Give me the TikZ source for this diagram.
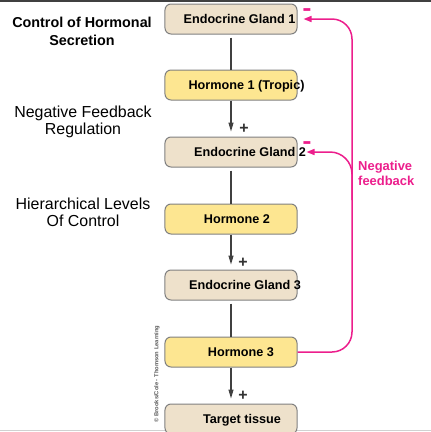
\documentclass[tikz,border=0pt]{standalone}
\usepackage{fontspec}
\usepackage{graphicx}
\setmainfont{Liberation Sans}
\usetikzlibrary{arrows.meta}
\definecolor{gland}{RGB}{238,225,203}
\definecolor{horm}{RGB}{253,230,145}
\definecolor{boxline}{RGB}{128,128,128}
\definecolor{arrowgray}{RGB}{64,64,64}
\definecolor{fbpink}{RGB}{236,30,140}
\tikzset{
  boxbase/.style={draw=boxline, line width=1bp, rounded corners=6bp, minimum width=132bp, minimum height=30bp, inner sep=0pt},
  glandbox/.style={boxbase, fill=gland},
  hormbox/.style={boxbase, fill=horm},
  boxtext/.style={font=\bfseries\fontsize{12.7}{14}\selectfont, text height=9bp, text depth=0pt, inner sep=0pt, anchor=center},
  lefttitle/.style={font=\bfseries\fontsize{14.4}{17}\selectfont, inner sep=0pt, anchor=base},
  lefttext/.style={font=\fontsize{16}{18}\selectfont, inner sep=0pt, anchor=base},
  fbtext/.style={font=\bfseries\fontsize{13}{15}\selectfont, text=fbpink, inner sep=0pt, anchor=base west},
  plussign/.style={font=\bfseries\fontsize{16}{16}\selectfont, text=arrowgray!80!black, inner sep=0pt, anchor=center},
  minussign/.style={font=\bfseries\fontsize{14}{14}\selectfont, text=fbpink, inner sep=0pt, anchor=base},
  link/.style={draw=arrowgray, line width=1.1bp},
  linkarrow/.style={link, -{Triangle[length=9bp,width=5bp]}},
  fb/.style={draw=fbpink, line width=1.5bp, rounded corners=20bp},
  fbarrow/.style={fb, -{Triangle[length=8bp,width=6bp]}}
}
\begin{document}
\begin{tikzpicture}[x=1bp,y=-1bp]
\useasboundingbox (0,0) rectangle (431,432);
% frame lines
\draw[line width=2bp, draw=black!75] (0,1.2) -- (431,1.2);
\draw[line width=0.8bp, draw=black!18] (0,430.8) -- (431,430.8);

% boxes
\node[glandbox] (g1) at (231,19) {};
\node[hormbox]  (h1) at (231,85) {};
\node[glandbox] (g2) at (231,152) {};
\node[hormbox]  (h2) at (231,219) {};
\node[glandbox] (g3) at (231,285) {};
\node[hormbox]  (h3) at (231,352) {};
\node[glandbox] (tt) at (231,419) {};

% box texts
\node[boxtext] (g1t) at (239.5,19) {Endocrine Gland 1};
\node[boxtext] (h1t) at (246.5,85) {Hormone 1 (Tropic)};
\node[boxtext] (g2t) at (250,152) {Endocrine Gland 2};
\node[boxtext] (h2t) at (237,219) {Hormone 2};
\node[boxtext] (g3t) at (245,285) {Endocrine Gland 3};
\node[boxtext] (h3t) at (241,352) {Hormone 3};
\node[boxtext] (ttt) at (242,419) {Target tissue};

% vertical connectors
\draw[link, shorten <=3bp] (g1) -- (h1);
\draw[linkarrow, shorten >=5bp] (h1) -- (g2);
\draw[link, shorten <=3bp] (g2) -- (h2);
\draw[linkarrow, shorten >=5bp] (h2) -- (g3);
\draw[link, shorten <=3bp] (g3) -- (h3);
\draw[linkarrow, shorten >=5bp] (h3) -- (tt);

% plus signs
\node[plussign] (p1) at (244,129) {+};
\node[plussign] (p2) at (243,263) {+};
\node[plussign] (p3) at (243,396) {+};

% feedback
\coordinate (fbc1) at (352,352);
\coordinate (fbc2) at (352,19);
\coordinate (fbb1) at (352,200);
\coordinate (fbb2) at (352,152);
\draw[fbarrow, shorten >=6bp] (h3.east) -- (fbc1) -- (fbc2) -- (g1.east);
\draw[fbarrow, rounded corners=22bp, shorten >=9bp] (fbb1) -- (fbb2) -- (g2.east);
\node[minussign] (m1) at (307,17) {\scalebox{1}[2]{–}};
\node[minussign] (m2) at (307,150) {\scalebox{1}[2]{–}};
\node[fbtext] (fbl1) at (358,170) {Negative};
\node[fbtext] (fbl2) at (358,185) {feedback};

% left texts
\node[lefttitle] (lt1) at (82,27) {Control of Hormonal};
\node[lefttitle] (lt2) at (82,45) {Secretion};
\node[lefttext] (ln1) at (83,117.5) {Negative Feedback};
\node[lefttext] (ln2) at (83,134.5) {Regulation};
\node[lefttext] (lh1) at (83,209.5) {Hierarchical Levels};
\node[lefttext] (lh2) at (83,226.5) {Of Control};

% copyright
\node[font=\bfseries\fontsize{5.8}{6}\selectfont, text=black!65, rotate=90, inner sep=0pt] (copy) at (157,374) {© Brooks/Cole - Thomson Learning};
\end{tikzpicture}
\end{document}
